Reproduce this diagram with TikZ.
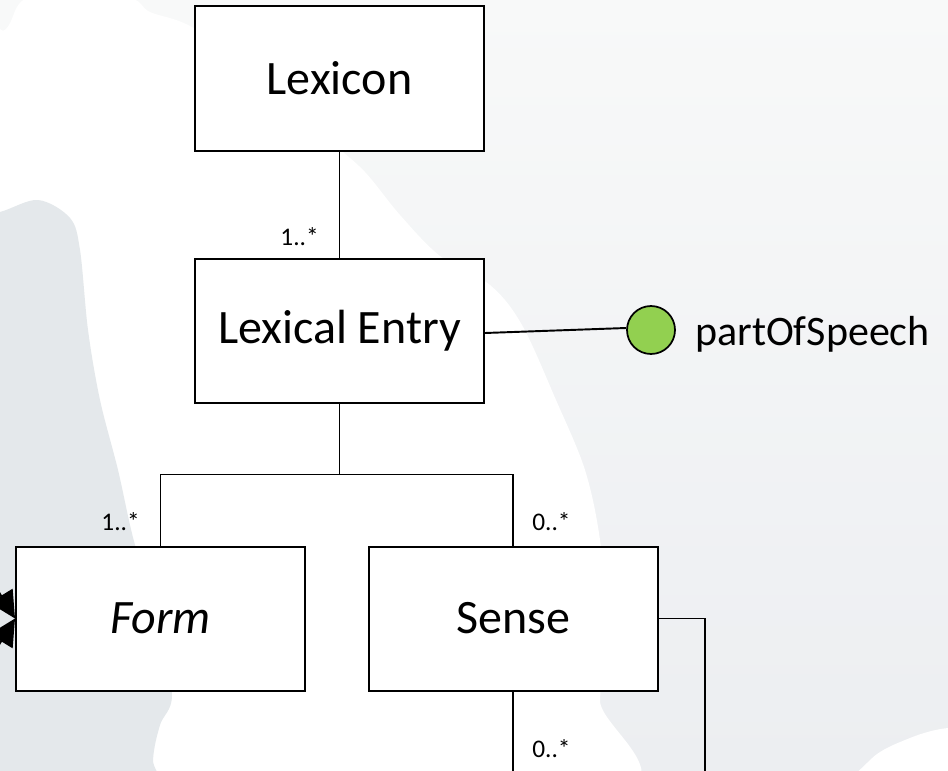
\documentclass[tikz,border=0pt]{standalone}
\usepackage{fontspec}
\setmainfont{Carlito}
\usetikzlibrary{arrows.meta}

\definecolor{bgLight}{HTML}{F8F9F9}
\definecolor{bgMid}{HTML}{ECEEF1}
\definecolor{bgDark}{HTML}{E4E8EB}
\definecolor{posgreen}{HTML}{92D050}

\begin{document}
\begin{tikzpicture}[x=0.75pt,y=-0.75pt,
  cls/.style={draw=black, line width=1.5pt, fill=white,
    minimum width=216.75pt, minimum height=108pt, inner sep=0pt,
    font=\fontsize{36}{40}\selectfont},
  link/.style={draw=black, line width=1.45pt},
  mult/.style={font=\fontsize{19}{22}\selectfont, inner sep=0pt},
  attr/.style={circle, draw=black, line width=1.3pt, fill=posgreen,
    minimum size=36pt, inner sep=0pt},
  attrlabel/.style={font=\fontsize{31.5}{36}\selectfont, inner sep=0pt},
  gen/.style={link, -{Triangle[length=20pt,width=20pt]}}]

  % page and background
  \useasboundingbox (0,0) rectangle (948,770);
  \clip (0,0) rectangle (948,770);
  % light at the top, a little darker towards the bottom (upright y axis)
  \begin{scope}[y=0.75pt]
    \shade[top color=bgLight, bottom color=bgMid] (0,0) rectangle (948,-770);
  \end{scope}
  \fill[white] plot[smooth cycle, tension=0.55] coordinates {
    (30,-3) (125,-3) (150,12) (190,26) (260,70) (330,140) (365,172)
    (400,215) (440,256) (490,285) (522,325) (556,400) (585,470)
    (600,540) (606,620) (600,700) (598,800) (-40,800) (-40,60) (5,30)};
  \fill[bgDark] plot[smooth cycle, tension=0.55] coordinates {
    (-40,220) (0,212) (38,200) (70,218) (80,250) (88,330) (100,400)
    (118,470) (135,545) (160,620) (172,695) (160,725) (153,760)
    (155,810) (-40,810)};
  \fill[white] plot[smooth cycle, tension=0.55] coordinates {
    (840,810) (870,760) (910,738) (948,728) (990,730) (990,810)};

  % classes
  \node[cls] (lexicon) at (339.5,78.5) {Lexicon};
  \node[cls] (entry)   at (339.5,331)  {Lexical Entry};
  \node[cls] (form)    at (160.5,618.5) {\itshape Form};
  \node[cls] (sense)   at (513,618.5)  {Sense};

  % attribute of the lexical entry
  \node[attr] (pos) at (651,330) {};
  \node[attrlabel, anchor=base west] (poslabel) at (695,345) {partOfSpeech};

  % connector end points
  \coordinate (split) at (339.5,474.5);
  \coordinate (selfturn) at (705,618.5);
  \coordinate (selfend) at (705,800);
  \coordinate (senseend) at (513,800);
  \coordinate (genA) at (-30,545);
  \coordinate (genB) at (-30,692);

  % associations
  \draw[link] (lexicon.south) -- (entry.north);
  \draw[link] ([yshift=-1.5pt]entry.east) -- ([yshift=1.5pt]pos.west);
  \draw[link] (entry.south) -- (split);
  \draw[link] (form.north) |- (split) -| (sense.north);
  \draw[link] (sense.east) -- (selfturn) -- (selfend);
  \draw[link] (sense.south) -- (senseend);
  \draw[gen] (genA) -- (form.west);
  \draw[gen] (genB) -- (form.west);

  % multiplicities
  \node[mult, anchor=base east] (m1) at (319,245) {1..*};
  \node[mult, anchor=base east] (m2) at (140,530) {1..*};
  \node[mult, anchor=base west] (m3) at (532,530) {0..*};
  \node[mult, anchor=base west] (m4) at (532,757) {0..*};
\end{tikzpicture}
\end{document}
